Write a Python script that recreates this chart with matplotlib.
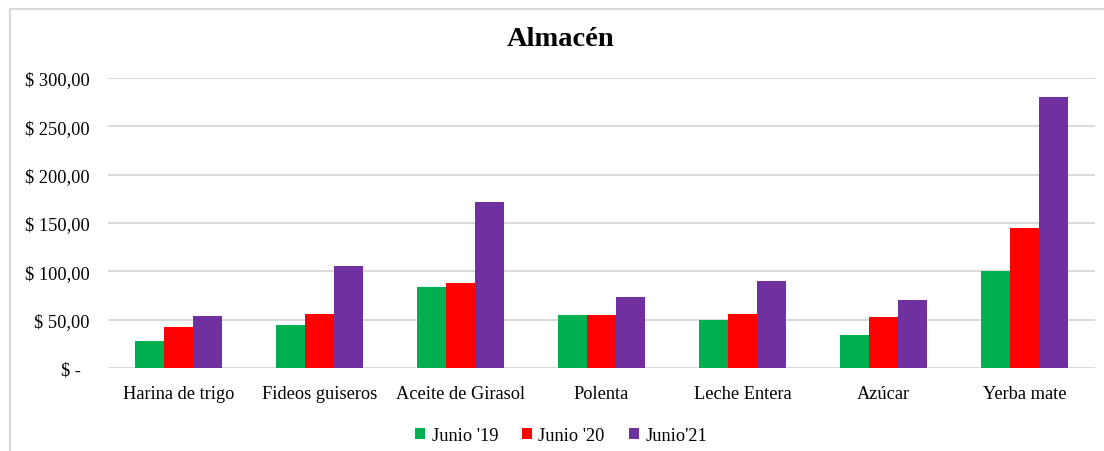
import numpy as np
import matplotlib.pyplot as plt
from matplotlib.patches import Rectangle
from matplotlib.ticker import FuncFormatter

categories = ["Harina de trigo", "Fideos guiseros", "Aceite de Girasol", "Polenta",
              "Leche Entera", "Azúcar", "Yerba mate"]
junio_19 = [28, 44, 84, 55, 50, 34, 100]
junio_20 = [42, 56, 88, 55, 56, 53, 145]
junio_21 = [54, 106, 172, 73, 90, 70, 280]
series = ["Junio '19", "Junio '20", "Junio'21"]
colors = ["#00b050", "#ff0000", "#7030a0"]
yticks = [0, 50, 100, 150, 200, 250, 300]

plt.rcParams["font.family"] = ["Liberation Serif", "DejaVu Serif"]

fig = plt.figure(figsize=(11.04, 4.52), dpi=100)
ax = fig.add_axes([108 / 1104, 1 - 369 / 452, 987 / 1104, 290 / 452])

x = np.arange(len(categories))
w = 0.206
for i, (vals, name, c) in enumerate(zip([junio_19, junio_20, junio_21], series, colors)):
    ax.bar(x + (i - 1) * w, vals, width=w, color=c, label=name, zorder=3)

ax.set_xlim(-0.5, len(categories) - 0.5)
ax.set_ylim(0, 300)
ax.set_yticks(yticks)
ax.yaxis.set_major_formatter(FuncFormatter(
    lambda v, p: "$ -  " if v == 0 else "$ " + f"{v:.2f}".replace(".", ",")))
ax.set_xticks(x)
ax.set_xticklabels(categories)
ax.grid(axis="y", color="#d9d9d9", linewidth=1.4, zorder=0)
for s in ax.spines.values():
    s.set_visible(False)
ax.tick_params(length=0, labelsize=13.2, colors="#000000")
ax.tick_params(axis="y", pad=13)
ax.tick_params(axis="x", pad=12)

fig.text(561 / 1104, 1 - 40 / 452, "Almacén", ha="center", va="center",
         fontsize=20.5, fontweight="bold")

ax.legend(loc="upper center", bbox_to_anchor=(0.459, -0.145), ncol=3, frameon=False,
          fontsize=13.2, handlelength=0.55, handleheight=0.55, columnspacing=1.3,
          handletextpad=0.35)

fig.patches.append(Rectangle((10 / 1104, -0.1), 1.2, 1 - 10 / 452 + 0.1,
                             transform=fig.transFigure, fill=False,
                             edgecolor="#d9d9d9", linewidth=1.5))

fig.savefig("out.png", dpi=100)
